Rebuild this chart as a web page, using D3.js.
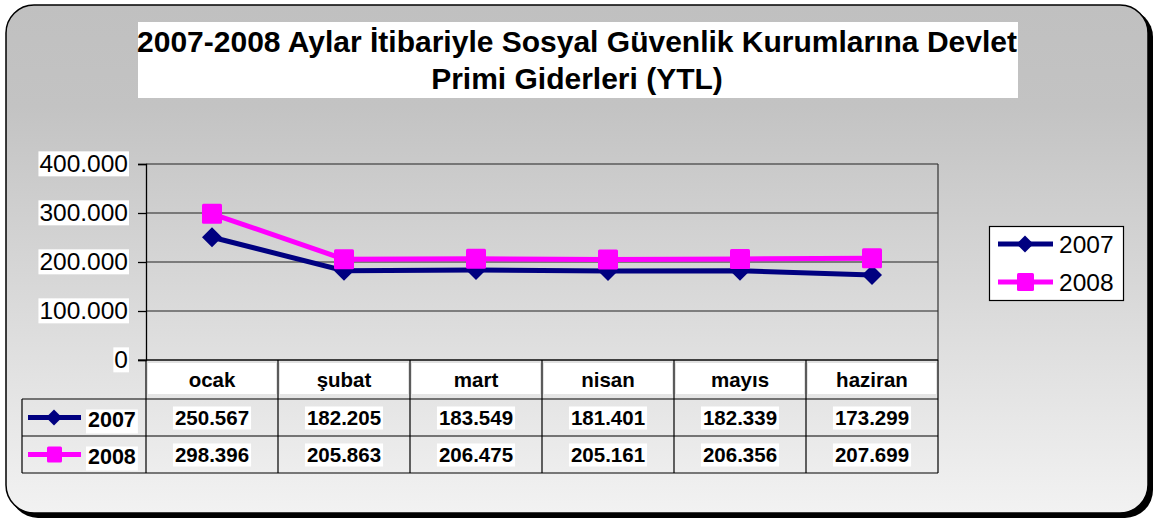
<!DOCTYPE html>
<html><head><meta charset="utf-8">
<script src="https://cdn.jsdelivr.net/npm/d3@7/dist/d3.min.js"></script>
<style>html,body{margin:0;padding:0;background:#fff;}svg{display:block;font-family:"Liberation Sans",Arial,sans-serif;}</style>
</head><body>
<script>
const categories = ["ocak","şubat","mart","nisan","mayıs","haziran"];
const series2007 = [250567,182205,183549,181401,182339,173299];
const series2008 = [298396,205863,206475,205161,206356,207699];
const yTicks = [0,100000,200000,300000,400000];
const titleLines = ["2007-2008 Aylar İtibariyle Sosyal Güvenlik Kurumlarına Devlet","Primi Giderleri (YTL)"];

const W=1163,H=523;
const svg=d3.select("body").append("svg").attr("width",W).attr("height",H);
const defs=svg.append("defs");
const g=defs.append("linearGradient").attr("id","bg").attr("x1",0).attr("y1",0).attr("x2",0).attr("y2",1);
g.append("stop").attr("offset","0%").attr("stop-color","#c0c0c0");
g.append("stop").attr("offset","20%").attr("stop-color","#c3c3c3");
g.append("stop").attr("offset","100%").attr("stop-color","#f2f2f2");

const fmt = v => d3.format(",")(v).replace(/,/g,".");

// frame shadow + frame
svg.append("rect").attr("x",10).attr("y",9).attr("width",1143).attr("height",509).attr("rx",28).attr("fill","#000");
svg.append("rect").attr("x",6).attr("y",5).attr("width",1142).attr("height",508).attr("rx",28)
  .attr("fill","url(#bg)").attr("stroke","#000").attr("stroke-width",1.5);

// title
svg.append("rect").attr("x",138).attr("y",22).attr("width",880).attr("height",76).attr("fill","#fff");
svg.selectAll("text.title").data(titleLines).join("text").attr("class","title")
  .attr("x",577).attr("y",(d,i)=>52+i*37).attr("text-anchor","middle")
  .attr("font-size",30).attr("font-weight","bold").attr("fill","#000").text(d=>d);

const x0=146,x1=938,yTop=164,yBot=360;
const x=d3.scaleBand().domain(categories).range([x0,x1]);
const y=d3.scaleLinear().domain([0,400000]).range([yBot,yTop]);

// gridlines
svg.append("g").selectAll("line").data(yTicks).join("line")
  .attr("x1",x0).attr("x2",x1).attr("y1",d=>y(d)).attr("y2",d=>y(d))
  .attr("stroke","#222").attr("stroke-width",1.2);
// plot border right
svg.append("line").attr("x1",x1).attr("x2",x1).attr("y1",yTop).attr("y2",yBot).attr("stroke","#333").attr("stroke-width",1.2);

// y axis
const yAxis=d3.axisLeft(y).tickValues(yTicks).tickSize(8).tickPadding(10).tickFormat(fmt);
const ya=svg.append("g").attr("transform",`translate(${x0},0)`).call(yAxis);
ya.select(".domain").attr("stroke","#000").attr("stroke-width",1.3);
ya.selectAll(".tick line").attr("stroke","#000").attr("stroke-width",1.3);
ya.selectAll(".tick text").attr("font-size",24.5).attr("fill","#000").attr("font-family","Liberation Sans, Arial, sans-serif");
ya.selectAll(".tick").each(function(){
  const t=d3.select(this).select("text");
  const bb=t.node().getBBox();
  d3.select(this).insert("rect","text").attr("x",bb.x-1).attr("y",bb.y+1).attr("width",bb.width+2).attr("height",bb.height-2).attr("fill","#fff");
});

// lines
const line=d3.line().x((d,i)=>x(categories[i])+x.bandwidth()/2).y(d=>y(d));
svg.append("path").datum(series2007).attr("d",line).attr("fill","none").attr("stroke","#000080").attr("stroke-width",5);
svg.append("path").datum(series2008).attr("d",line).attr("fill","none").attr("stroke","#ff00ff").attr("stroke-width",5);
const diamond=(s)=>`M0,${-s}L${s},0L0,${s}L${-s},0Z`;
svg.append("g").selectAll("path").data(series2007).join("path")
  .attr("transform",(d,i)=>`translate(${x(categories[i])+x.bandwidth()/2},${y(d)})`)
  .attr("d",diamond(10)).attr("fill","#000080");
svg.append("g").selectAll("rect").data(series2008).join("rect")
  .attr("x",(d,i)=>x(categories[i])+x.bandwidth()/2-10).attr("y",d=>y(d)-10)
  .attr("width",20).attr("height",20).attr("rx",1.5).attr("fill","#ff00ff");

// data table
const rowH=[[360,399],[399,436],[436,473]];
const tbl=svg.append("g");
tbl.selectAll("rect.h").data(categories).join("rect").attr("class","h")
  .attr("x",d=>x(d)+2).attr("y",363).attr("width",x.bandwidth()-4).attr("height",31).attr("fill","#fff");
tbl.selectAll("text.h").data(categories).join("text").attr("class","h")
  .attr("x",d=>x(d)+x.bandwidth()/2).attr("y",387).attr("text-anchor","middle")
  .attr("font-size",20.5).attr("font-weight","bold").text(d=>d);
const tl=(a,b,c,d)=>tbl.append("line").attr("x1",a).attr("y1",b).attr("x2",c).attr("y2",d).attr("stroke","#000").attr("stroke-width",1.2);
tl(138,360,x1,360);
tl(22,399,x1,399);
tl(22,436,x1,436);
tl(22,473,x1,473);
tl(22,399,22,473);
categories.forEach(c=>tl(x(c),360,x(c),473));
tl(x1,360,x1,473);

const rows=[{name:"2007",vals:series2007,color:"#000080",m:"d"},{name:"2008",vals:series2008,color:"#ff00ff",m:"s"}];
rows.forEach((r,ri)=>{
  const cy=(rowH[ri+1][0]+rowH[ri+1][1])/2;
  r.vals.forEach((v,i)=>{
    const t=tbl.append("text").attr("x",x(categories[i])+x.bandwidth()/2).attr("y",cy+7)
      .attr("text-anchor","middle").attr("font-size",20.5).attr("font-weight","bold").text(fmt(v));
    const bb=t.node().getBBox();
    tbl.insert("rect",()=>t.node()).attr("x",bb.x-2).attr("y",bb.y+1).attr("width",bb.width+4).attr("height",bb.height).attr("fill","#fff");
  });
  tbl.append("line").attr("x1",28).attr("x2",81).attr("y1",cy).attr("y2",cy).attr("stroke",r.color).attr("stroke-width",5);
  if(r.m==="d") tbl.append("path").attr("transform",`translate(54,${cy})`).attr("d",diamond(8)).attr("fill",r.color);
  else tbl.append("rect").attr("x",47).attr("y",cy-8).attr("width",15).attr("height",16).attr("rx",1.5).attr("fill",r.color);
  const t=tbl.append("text").attr("x",88).attr("y",cy+9).attr("font-size",21.5).attr("font-weight","bold").text(r.name);
  const bb=t.node().getBBox();
  tbl.insert("rect",()=>t.node()).attr("x",bb.x-2).attr("y",bb.y+2).attr("width",bb.width+4).attr("height",bb.height).attr("fill","#fff");
});

// legend
const lg=svg.append("g");
lg.append("rect").attr("x",989.5).attr("y",226.5).attr("width",134).attr("height",74).attr("fill","#fff").attr("stroke","#000").attr("stroke-width",1.2);
rows.forEach((r,i)=>{
  const cy=244+i*38;
  lg.append("line").attr("x1",998).attr("x2",1053).attr("y1",cy).attr("y2",cy).attr("stroke",r.color).attr("stroke-width",5);
  if(r.m==="d") lg.append("path").attr("transform",`translate(1025,${cy})`).attr("d",diamond(8.5)).attr("fill",r.color);
  else lg.append("rect").attr("x",1017).attr("y",cy-9).attr("width",17).attr("height",18).attr("rx",1.5).attr("fill",r.color);
  lg.append("text").attr("x",1059).attr("y",cy+9).attr("font-size",24.5).text(r.name);
});
</script>
</body></html>
